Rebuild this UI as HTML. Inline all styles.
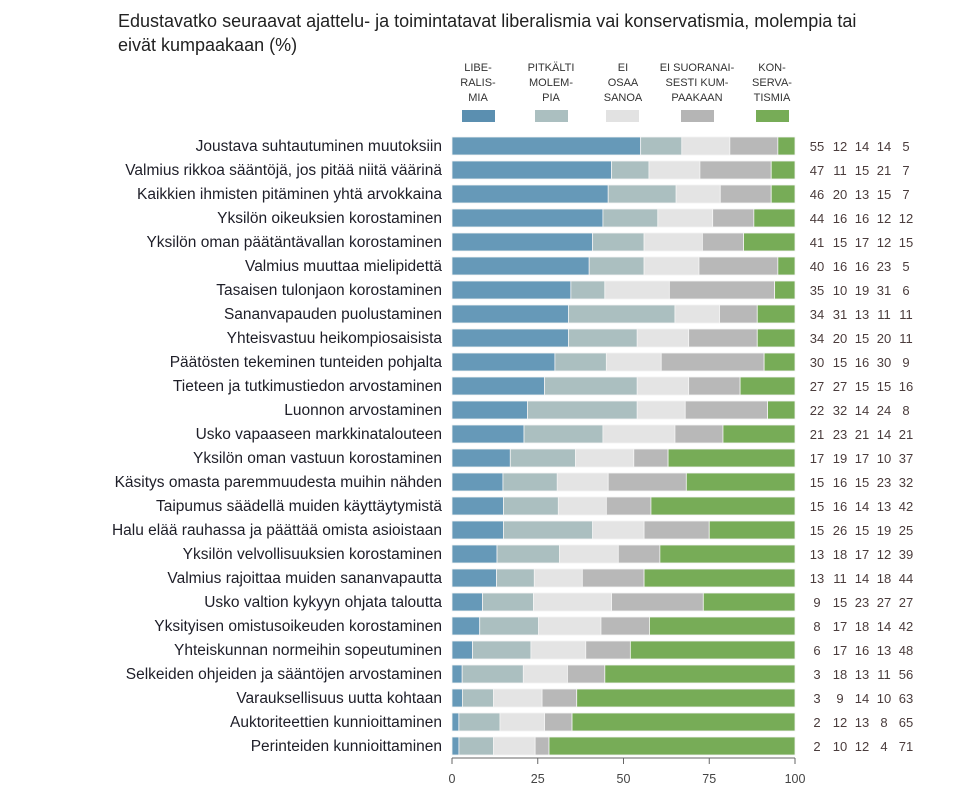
<!DOCTYPE html>
<html><head><meta charset="utf-8"><style>
body{margin:0;background:#fff;}
svg{display:block;font-family:"Liberation Sans",sans-serif;}
.l{font-size:15.5px;fill:#1e1e28;text-anchor:end;}
.n{font-size:13px;fill:#4a3c3c;text-anchor:middle;}
.g{font-size:11px;fill:#333;text-anchor:middle;}
.t{font-size:12.5px;fill:#444;text-anchor:middle;}
</style></head><body>
<svg id="s" width="960" height="792" viewBox="0 0 960 792">
<text x="118" y="27" font-size="18" fill="#222">Edustavatko seuraavat ajattelu- ja toimintatavat liberalismia vai konservatismia, molempia tai</text>
<text x="118" y="51" font-size="18" fill="#222">eivät kumpaakaan (%)</text>
<g class="g">
<text x="478" y="71">LIBE-</text><text x="478" y="86">RALIS-</text><text x="478" y="101">MIA</text>
<text x="551" y="71">PITKÄLTI</text><text x="551" y="86">MOLEM-</text><text x="551" y="101">PIA</text>
<text x="623" y="71">EI</text><text x="623" y="86">OSAA</text><text x="623" y="101">SANOA</text>
<text x="697" y="71">EI SUORANAI-</text><text x="697" y="86">SESTI KUM-</text><text x="697" y="101">PAAKAAN</text>
<text x="772" y="71">KON-</text><text x="772" y="86">SERVA-</text><text x="772" y="101">TISMIA</text>
</g>
<rect x="462" y="110" width="33" height="12" fill="#5b8fb0"/>
<rect x="535" y="110" width="33" height="12" fill="#abbfc0"/>
<rect x="606" y="110" width="33" height="12" fill="#e2e2e2"/>
<rect x="681" y="110" width="33" height="12" fill="#b5b5b5"/>
<rect x="756" y="110" width="33" height="12" fill="#77ac57"/>
<g id="bars"></g>
<g class="l">
<text x="442" y="151">Joustava suhtautuminen muutoksiin</text>
<text x="442" y="175">Valmius rikkoa sääntöjä, jos pitää niitä väärinä</text>
<text x="442" y="199">Kaikkien ihmisten pitäminen yhtä arvokkaina</text>
<text x="442" y="223">Yksilön oikeuksien korostaminen</text>
<text x="442" y="247">Yksilön oman päätäntävallan korostaminen</text>
<text x="442" y="271">Valmius muuttaa mielipidettä</text>
<text x="442" y="295">Tasaisen tulonjaon korostaminen</text>
<text x="442" y="319">Sananvapauden puolustaminen</text>
<text x="442" y="343">Yhteisvastuu heikompiosaisista</text>
<text x="442" y="367">Päätösten tekeminen tunteiden pohjalta</text>
<text x="442" y="391">Tieteen ja tutkimustiedon arvostaminen</text>
<text x="442" y="415">Luonnon arvostaminen</text>
<text x="442" y="439">Usko vapaaseen markkinatalouteen</text>
<text x="442" y="463">Yksilön oman vastuun korostaminen</text>
<text x="442" y="487">Käsitys omasta paremmuudesta muihin nähden</text>
<text x="442" y="511">Taipumus säädellä muiden käyttäytymistä</text>
<text x="442" y="535">Halu elää rauhassa ja päättää omista asioistaan</text>
<text x="442" y="559">Yksilön velvollisuuksien korostaminen</text>
<text x="442" y="583">Valmius rajoittaa muiden sananvapautta</text>
<text x="442" y="607">Usko valtion kykyyn ohjata taloutta</text>
<text x="442" y="631">Yksityisen omistusoikeuden korostaminen</text>
<text x="442" y="655">Yhteiskunnan normeihin sopeutuminen</text>
<text x="442" y="679">Selkeiden ohjeiden ja sääntöjen arvostaminen</text>
<text x="442" y="703">Varauksellisuus uutta kohtaan</text>
<text x="442" y="727">Auktoriteettien kunnioittaminen</text>
<text x="442" y="751">Perinteiden kunnioittaminen</text>
</g>
<g id="nums" class="n">
<text x="817" y="151">55</text><text x="840" y="151">12</text><text x="862" y="151">14</text><text x="884" y="151">14</text><text x="906" y="151">5</text>
<text x="817" y="175">47</text><text x="840" y="175">11</text><text x="862" y="175">15</text><text x="884" y="175">21</text><text x="906" y="175">7</text>
<text x="817" y="199">46</text><text x="840" y="199">20</text><text x="862" y="199">13</text><text x="884" y="199">15</text><text x="906" y="199">7</text>
<text x="817" y="223">44</text><text x="840" y="223">16</text><text x="862" y="223">16</text><text x="884" y="223">12</text><text x="906" y="223">12</text>
<text x="817" y="247">41</text><text x="840" y="247">15</text><text x="862" y="247">17</text><text x="884" y="247">12</text><text x="906" y="247">15</text>
<text x="817" y="271">40</text><text x="840" y="271">16</text><text x="862" y="271">16</text><text x="884" y="271">23</text><text x="906" y="271">5</text>
<text x="817" y="295">35</text><text x="840" y="295">10</text><text x="862" y="295">19</text><text x="884" y="295">31</text><text x="906" y="295">6</text>
<text x="817" y="319">34</text><text x="840" y="319">31</text><text x="862" y="319">13</text><text x="884" y="319">11</text><text x="906" y="319">11</text>
<text x="817" y="343">34</text><text x="840" y="343">20</text><text x="862" y="343">15</text><text x="884" y="343">20</text><text x="906" y="343">11</text>
<text x="817" y="367">30</text><text x="840" y="367">15</text><text x="862" y="367">16</text><text x="884" y="367">30</text><text x="906" y="367">9</text>
<text x="817" y="391">27</text><text x="840" y="391">27</text><text x="862" y="391">15</text><text x="884" y="391">15</text><text x="906" y="391">16</text>
<text x="817" y="415">22</text><text x="840" y="415">32</text><text x="862" y="415">14</text><text x="884" y="415">24</text><text x="906" y="415">8</text>
<text x="817" y="439">21</text><text x="840" y="439">23</text><text x="862" y="439">21</text><text x="884" y="439">14</text><text x="906" y="439">21</text>
<text x="817" y="463">17</text><text x="840" y="463">19</text><text x="862" y="463">17</text><text x="884" y="463">10</text><text x="906" y="463">37</text>
<text x="817" y="487">15</text><text x="840" y="487">16</text><text x="862" y="487">15</text><text x="884" y="487">23</text><text x="906" y="487">32</text>
<text x="817" y="511">15</text><text x="840" y="511">16</text><text x="862" y="511">14</text><text x="884" y="511">13</text><text x="906" y="511">42</text>
<text x="817" y="535">15</text><text x="840" y="535">26</text><text x="862" y="535">15</text><text x="884" y="535">19</text><text x="906" y="535">25</text>
<text x="817" y="559">13</text><text x="840" y="559">18</text><text x="862" y="559">17</text><text x="884" y="559">12</text><text x="906" y="559">39</text>
<text x="817" y="583">13</text><text x="840" y="583">11</text><text x="862" y="583">14</text><text x="884" y="583">18</text><text x="906" y="583">44</text>
<text x="817" y="607">9</text><text x="840" y="607">15</text><text x="862" y="607">23</text><text x="884" y="607">27</text><text x="906" y="607">27</text>
<text x="817" y="631">8</text><text x="840" y="631">17</text><text x="862" y="631">18</text><text x="884" y="631">14</text><text x="906" y="631">42</text>
<text x="817" y="655">6</text><text x="840" y="655">17</text><text x="862" y="655">16</text><text x="884" y="655">13</text><text x="906" y="655">48</text>
<text x="817" y="679">3</text><text x="840" y="679">18</text><text x="862" y="679">13</text><text x="884" y="679">11</text><text x="906" y="679">56</text>
<text x="817" y="703">3</text><text x="840" y="703">9</text><text x="862" y="703">14</text><text x="884" y="703">10</text><text x="906" y="703">63</text>
<text x="817" y="727">2</text><text x="840" y="727">12</text><text x="862" y="727">13</text><text x="884" y="727">8</text><text x="906" y="727">65</text>
<text x="817" y="751">2</text><text x="840" y="751">10</text><text x="862" y="751">12</text><text x="884" y="751">4</text><text x="906" y="751">71</text>
</g>
<line x1="452" y1="758" x2="795" y2="758" stroke="#666" stroke-width="1"/>
<g stroke="#666">
<line x1="452" y1="758" x2="452" y2="764"/><line x1="537.75" y1="758" x2="537.75" y2="764"/><line x1="623.5" y1="758" x2="623.5" y2="764"/><line x1="709.25" y1="758" x2="709.25" y2="764"/><line x1="795" y1="758" x2="795" y2="764"/>
</g>
<g class="t">
<text x="452" y="783">0</text><text x="537.75" y="783">25</text><text x="623.5" y="783">50</text><text x="709.25" y="783">75</text><text x="795" y="783">100</text>
</g>
</svg>
<script>
var d=[[55,12,14,14,5],[47,11,15,21,7],[46,20,13,15,7],[44,16,16,12,12],[41,15,17,12,15],[40,16,16,23,5],[35,10,19,31,6],[34,31,13,11,11],[34,20,15,20,11],[30,15,16,30,9],[27,27,15,15,16],[22,32,14,24,8],[21,23,21,14,21],[17,19,17,10,37],[15,16,15,23,32],[15,16,14,13,42],[15,26,15,19,25],[13,18,17,12,39],[13,11,14,18,44],[9,15,23,27,27],[8,17,18,14,42],[6,17,16,13,48],[3,18,13,11,56],[3,9,14,10,63],[2,12,13,8,65],[2,10,12,4,71]];
var c=["#6699b8","#abbfc0","#e4e4e4","#b8b8b8","#77ac57"];
var g=document.getElementById("bars"),ns="http://www.w3.org/2000/svg";
d.forEach(function(r,i){var s=r.reduce(function(a,b){return a+b},0),x=452;
r.forEach(function(v,j){var w=v/s*343;var e=document.createElementNS(ns,"rect");
e.setAttribute("x",x);e.setAttribute("y",137+24*i);e.setAttribute("width",w);e.setAttribute("height",18);
e.setAttribute("fill",c[j]);e.setAttribute("stroke","#f4f4f4");e.setAttribute("stroke-width","0.8");g.appendChild(e);x+=w;});});
</script>
</body></html>
